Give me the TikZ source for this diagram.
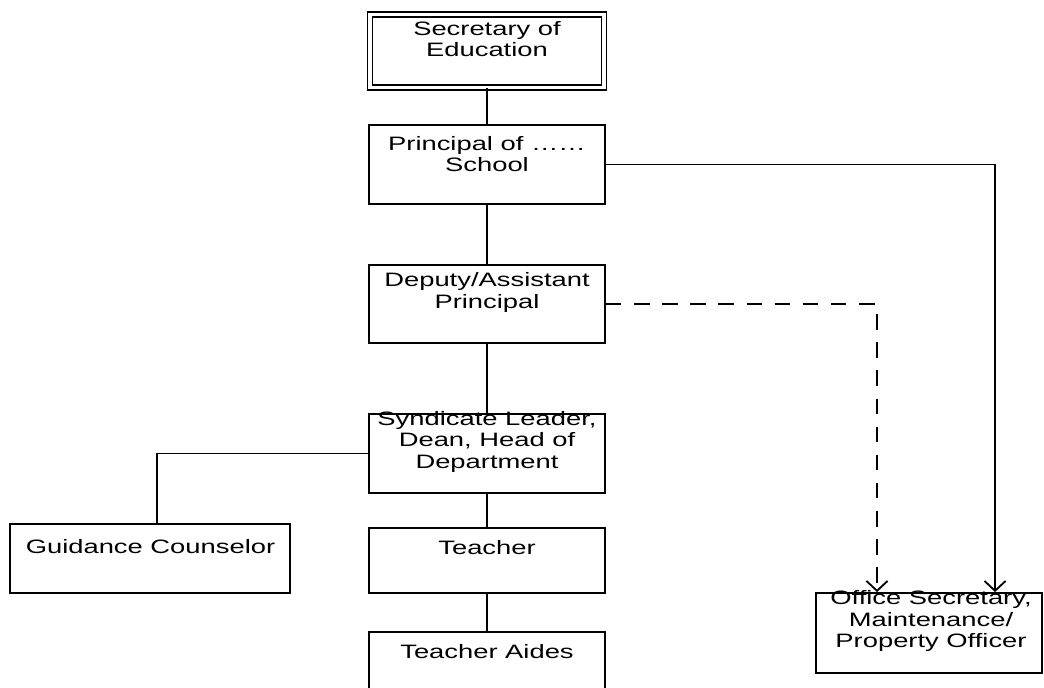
\documentclass[tikz,border=0pt]{standalone}
\usepackage{fontspec}
\setmainfont{Liberation Sans}[FakeStretch=1.41]
\usetikzlibrary{arrows.meta}
\tikzset{
	orgbox/.style={draw, line width=1.3pt, inner sep=0pt, minimum width=5.9cm},
	boxtext/.style={align=center, inner sep=0pt, font=\fontsize{13.8pt}{15.3pt}\selectfont},
	link/.style={line width=1.3pt},
	barb/.style={-{Straight Barb[length=7pt,width=15pt]}}
}

\begin{document}
\begin{tikzpicture}[x=0.025cm, y=-0.025cm]
			%%%%% START %%%%%
			\useasboundingbox (0, 0) rectangle (1044, 688);
			
			% boxes
			\node[orgbox, line width=1.1pt, double, double distance=2.2pt, minimum width=5.85cm, minimum height=1.825cm] (sec) at (487, 51) {};
			\node[orgbox, minimum height=1.975cm] (prin) at (487, 164.5) {};
			\node[orgbox, minimum height=1.95cm] (dep) at (487, 304) {};
			\node[orgbox, minimum height=1.975cm] (syn) at (487, 453.5) {};
			\node[orgbox, minimum width=7cm, minimum height=1.725cm] (guid) at (150, 558.5) {};
			\node[orgbox, minimum height=1.625cm] (teach) at (487, 560.5) {};
			\node[orgbox, minimum height=1.7cm] (aides) at (487, 666) {};
			\node[orgbox, minimum width=5.65cm, minimum height=2cm] (off) at (929, 633) {};
			
			% texts
			\node[boxtext] (secT) at (487, 39) {Secretary of\\Education};
			\node[boxtext] (prinT) at (487, 154) {Principal of \dots\dots\\School};
			\node[boxtext] (depT) at (487, 292.5) {Deputy/Assistant\\Principal};
			\node[boxtext] (synT) at (487, 441.5) {Syndicate Leader,\\Dean, Head of\\Department};
			\node[boxtext] (guidT) at (150.5, 547) {Guidance Counselor};
			\node[boxtext] (teachT) at (487, 548) {Teacher};
			\node[boxtext] (aidesT) at (487, 652) {Teacher Aides};
			\node[boxtext] (offT) at (931, 621) {Office Secretary,\\Maintenance/\\Property Officer};
			
			% links
			\draw[link] (sec.south) -- (prin.north);
			\draw[link] (prin.south) -- (dep.north);
			\draw[link] (dep.south) -- (syn.north);
			\draw[link] (syn.south) -- (teach.north);
			\draw[link] (teach.south) -- (aides.north);
			\draw[link] (syn.west) -| ([xshift=0.175cm]guid.north);
			
			\draw[link, barb] (prin.east) -| ([xshift=1.65cm]off.north);
			\draw[link, barb, dash pattern=on 11pt off 9pt] (dep.east) -| ([xshift=-1.3cm]off.north);
			
			%%%%% END %%%%%
\end{tikzpicture}
\end{document}
